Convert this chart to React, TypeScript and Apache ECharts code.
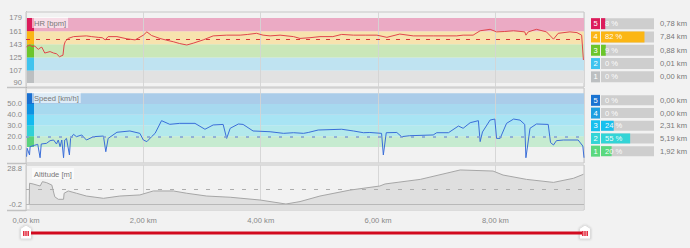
import React, { useEffect, useRef } from "react";
import * as echarts from "echarts";

// ---------- data ----------
const DIST_MAX = 9.51; // km
const X_TICK_STEP = 2;

// [km, bpm]
const hrSeries: [number, number][] = [
  [0.01, 139], [0.03, 141], [0.07, 142], [0.1, 140], [0.15, 140.5], [0.21, 136], [0.24, 138], [0.27, 139],
  [0.32, 131], [0.41, 133], [0.47, 131], [0.52, 130], [0.57, 126], [0.63, 128], [0.65, 142], [0.67, 147],
  [0.72, 151], [0.81, 153.5], [0.92, 154], [1.03, 154.5], [1.12, 153.5], [1.23, 152.5], [1.3, 152], [1.35, 149],
  [1.4, 153.5], [1.55, 153.5], [1.72, 150.5], [1.86, 149], [2.0, 155.5], [2.06, 160], [2.14, 155], [2.28, 151],
  [2.4, 148.5], [2.51, 146.5], [2.62, 144], [2.74, 142], [2.85, 144.5], [3.02, 149], [3.19, 154.5], [3.42, 155.5],
  [3.65, 155.5], [3.78, 156.5], [3.93, 158], [4.04, 155.5], [4.16, 154.5], [4.33, 155.5], [4.56, 153.5], [4.67, 151],
  [4.84, 152], [5.01, 153.5], [5.23, 153.5], [5.38, 156.5], [5.58, 155.5], [5.78, 155.5], [5.98, 155.5], [6.15, 152.5],
  [6.37, 157], [6.6, 154.5], [6.94, 154.5], [7.34, 154.5], [7.45, 155.5], [7.62, 155.5], [7.74, 161.5], [7.91, 163.5],
  [8.02, 160], [8.16, 160.5], [8.31, 161.5], [8.5, 160], [8.52, 155.5], [8.56, 160], [8.7, 163.5], [8.87, 160],
  [8.99, 150], [9.07, 158], [9.27, 160], [9.39, 159], [9.47, 155.5], [9.5, 121.5],
];

// [km, km/h]
const speedSeries: [number, number][] = [
  [0.01, 1], [0.02, 8.8], [0.06, 2.6], [0.07, 10.3], [0.14, 11.5], [0.2, 12.5], [0.24, 0], [0.26, 12.8],
  [0.35, 13.4], [0.41, 15.9], [0.47, 16.5], [0.52, 12.8], [0.55, 16.5], [0.58, 10.3], [0.61, 16.5], [0.64, 0],
  [0.66, 16.5], [0.69, 18], [0.74, 2.6], [0.76, 18], [0.81, 21.8], [0.86, 19.6], [0.95, 21.2], [1.03, 16.5],
  [1.15, 19.6], [1.32, 20.2], [1.36, 5.6], [1.4, 18], [1.55, 23.7], [1.77, 24.9], [1.94, 22.7], [2.0, 16.5],
  [2.06, 15], [2.14, 19.6], [2.2, 22.7], [2.31, 34.5], [2.45, 31.1], [2.62, 32], [2.88, 32], [3.05, 26.5],
  [3.19, 30.5], [3.36, 31], [3.42, 18], [3.48, 27.4], [3.62, 31.4], [3.7, 31], [3.87, 24.9], [4.16, 24.2],
  [4.39, 22.7], [4.56, 23.3], [4.73, 22.7], [4.81, 23.5], [4.98, 25.8], [5.38, 26.5], [5.58, 24.9], [5.75, 23.3],
  [5.86, 23.5], [6.06, 22.7], [6.09, 2.6], [6.14, 23.3], [6.32, 23.5], [6.4, 19.6], [6.54, 20.5], [6.94, 21.2],
  [7.0, 23.3], [7.2, 23.3], [7.37, 29.5], [7.45, 27.4], [7.57, 32.6], [7.71, 34.5], [7.74, 15], [7.78, 24],
  [7.91, 35.1], [7.99, 36], [8.02, 18], [8.08, 18], [8.19, 32], [8.31, 36], [8.42, 35], [8.5, 31],
  [8.52, 0], [8.59, 27.4], [8.7, 31.4], [8.9, 31], [8.94, 14.1], [8.99, 11.9], [9.04, 15.9], [9.16, 16.5],
  [9.41, 16.5], [9.49, 10.9], [9.51, 0],
];

// [km, m]
const altitudeSeries: [number, number][] = [
  [0.055, -0.2], [0.06, 17], [0.12, 16.4], [0.24, 14.7], [0.28, 18.3], [0.35, 17.5], [0.44, 15.5], [0.49, 5.8],
  [0.55, 3.7], [0.64, 3.7], [0.65, 8.7], [0.72, 10.6], [0.86, 8.7], [1.03, 6.4], [1.32, 4.5], [1.6, 6.4],
  [1.94, 7.3], [2.17, 10.6], [2.51, 10.6], [2.74, 8.7], [3.08, 6.4], [3.48, 5.4], [3.99, 3.1], [4.43, -0.2],
  [4.67, 1.8], [5.01, 6.4], [5.52, 11.3], [6.03, 14.7], [6.12, 16.4], [6.72, 20.2], [7.4, 28], [7.96, 27.1],
  [8.13, 23.8], [8.53, 20.2], [8.99, 17.7], [9.33, 21.1], [9.5, 24.4],
];

const hrZoneBounds = [90, 107, 125, 143, 161, 179];
const hrZonePct = [0, 0, 9, 82, 8]; // zones 1..5
const hrZoneKm = [0.0, 0.01, 0.88, 7.84, 0.78];
const hrAverage = 149.5;

const speedZoneBounds = [10, 20, 30, 40, 50, 60];
const speedZonePct = [20, 55, 24, 0, 0];
const speedZoneKm = [1.92, 5.19, 2.31, 0.0, 0.0];
const speedAverage = 19.5;
const speedLabels = [10, 20, 30, 40, 50];

const altitudeMin = -0.2;
const altitudeMax = 28.8;
const altitudeAverage = 12;

const zoneNames = ["1", "2", "3", "4", "5"];

// ---------- styles ----------
const FONT = '"Liberation Sans", Arial, Helvetica, sans-serif';
const FS = 7.6;
const W = 690;
const GRID_L = 26;
const GRID_R = 106;
const PLOT_W = W - GRID_L - GRID_R;
const STRIP_KM = (DIST_MAX * 8) / PLOT_W;

const hrStripColors = ["#bcbfc1", "#40c3ee", "#6cc52b", "#fbb615", "#dc1c5b"];
const hrBandColors = ["#e2e2e2", "#bfe3f1", "#cae7b8", "#f7e3ae", "#ebaac4"];
const speedStripColors = ["#5bd27c", "#30d0d8", "#12baf0", "#0d92e2", "#1a70d0"];
const speedBandColors = ["#c6ebd0", "#b3e9ec", "#a8e4f4", "#a7d9ef", "#aacce9"];
const speedBarColors = ["#5bd87f", "#33d4d6", "#17c0ee", "#1e9ee0", "#1a73d1"];

function bandAreas(bounds: number[], bands: string[], strips: string[]) {
  const out: any[] = [];
  for (let i = 0; i < 5; i++) {
    out.push([{ yAxis: bounds[i], itemStyle: { color: bands[i] } }, { yAxis: bounds[i + 1] }]);
  }
  for (let i = 0; i < 5; i++) {
    out.push([
      { xAxis: 0, yAxis: bounds[i], itemStyle: { color: strips[i] } },
      { xAxis: STRIP_KM, yAxis: bounds[i + 1] },
    ]);
  }
  return out;
}

const kmFmt = (v: number) => v.toFixed(2).replace(".", ",") + " km";

function xAxis(gridIndex: number, labels: boolean) {
  return {
    type: "value",
    gridIndex,
    min: 0,
    max: DIST_MAX,
    interval: X_TICK_STEP,
    z: 3,
    axisLine: { show: false },
    axisTick: { show: false },
    splitLine: { show: true, lineStyle: { color: "rgba(212,212,212,0.9)", width: 1 } },
    axisLabel: {
      show: labels,
      formatter: (v: number) => kmFmt(v),
      color: "#888",
      fontSize: FS,
      fontFamily: FONT,
      margin: 6,
      showMaxLabel: false,
    },
  };
}

function yAxis(gridIndex: number, min: number, max: number, labels: number[], digits: number) {
  return {
    type: "value",
    gridIndex,
    min,
    max,
    axisLine: { show: true, lineStyle: { color: "#a8a8a8", width: 1 } },
    axisTick: { show: false },
    splitLine: { show: false },
    axisLabel: {
      customValues: labels,
      formatter: (v: number) => v.toFixed(digits),
      color: "#888",
      fontSize: FS,
      fontFamily: FONT,
      margin: 4,
    },
  };
}

function zoneRich(colors: string[]) {
  const rich: any = {};
  colors.forEach((c, i) => {
    rich["z" + (i + 1)] = {
      backgroundColor: c,
      color: "#fff",
      width: 9,
      height: 11,
      lineHeight: 11,
      align: "center",
      fontSize: FS,
      fontFamily: FONT,
    };
  });
  return rich;
}

function zoneAxes(gridIndex: number, colors: string[], km: number[]) {
  return [
    {
      type: "category",
      gridIndex,
      data: zoneNames,
      axisLine: { show: false },
      axisTick: { show: false },
      axisLabel: {
        interval: 0,
        hideOverlap: false,
        margin: 1,
        formatter: (v: string) => `{z${v}|${v}}`,
        rich: zoneRich(colors),
      },
    },
    {
      type: "category",
      gridIndex,
      position: "right",
      data: zoneNames,
      axisLine: { show: false },
      axisTick: { show: false },
      axisLabel: {
        interval: 0,
        hideOverlap: false,
        margin: 33,
        align: "right",
        color: "#777",
        fontSize: FS,
        fontFamily: FONT,
        formatter: (v: string) => kmFmt(km[Number(v) - 1]),
      },
    },
  ];
}

function zoneBar(xi: number, yi: number, pct: number[], colors: string[], bw: number) {
  return {
    type: "bar",
    xAxisIndex: xi,
    yAxisIndex: yi,
    barWidth: bw,
    silent: true,
    data: pct.map((v, i) => ({ value: v, itemStyle: { color: colors[i] } })),
    showBackground: true,
    backgroundStyle: { color: "#cecece" },
    label: {
      show: true,
      position: [4, "50%"],
      verticalAlign: "middle",
      align: "left",
      formatter: "{c} %",
      color: "rgba(255,255,255,0.95)",
      fontSize: FS,
      fontFamily: FONT,
    },
  };
}

function panelLabel(text: string, x: number, y: number) {
  return {
    type: "text",
    z: 20,
    x,
    y,
    silent: true,
    style: {
      text,
      fill: "#777",
      fontSize: FS,
      fontFamily: FONT,
      backgroundColor: "rgba(255,255,255,0.6)",
      padding: [2, 2, 1, 2],
      verticalAlign: "top",
    },
  };
}

function handle(cx: number) {
  return {
    type: "group",
    z: 20,
    children: [
      {
        type: "polygon",
        shape: {
          points: [
            [cx - 5.5, 228.5],
            [cx, 225],
            [cx + 5.5, 228.5],
            [cx + 5.5, 239],
            [cx - 5.5, 239],
          ],
        },
        style: { fill: "#fff", stroke: "#dcdcdc", lineWidth: 1, shadowBlur: 2, shadowColor: "rgba(0,0,0,0.2)" },
      },
      ...[-2.2, 0, 2.2].map((d) => ({
        type: "rect",
        shape: { x: cx + d - 0.7, y: 231, width: 1.4, height: 5 },
        style: { fill: "#e01a2e" },
      })),
    ],
  };
}

function sepLine(y: number) {
  return {
    type: "line",
    z: 5,
    shape: { x1: 7, y1: y, x2: GRID_L, y2: y },
    style: { stroke: "#c2c2c2", lineWidth: 1.5 },
  };
}

function buildOption() {
  const gridBorder = { show: true, borderColor: "#c6c6c6", borderWidth: 1, backgroundColor: "transparent" };
  return {
    animation: false,
    backgroundColor: "#f2f2f2",
    grid: [
      { left: GRID_L, right: GRID_R, top: 12, height: 75, ...gridBorder },
      { left: GRID_L, right: GRID_R, top: 88, height: 75, ...gridBorder },
      { left: GRID_L, right: GRID_R, top: 165, height: 45, ...gridBorder },
      { left: 601, right: 36, top: 17, height: 66.5, show: false },
      { left: 601, right: 36, top: 94, height: 63.5, show: false },
    ],
    xAxis: [
      xAxis(0, false),
      xAxis(1, false),
      xAxis(2, true),
      { type: "value", gridIndex: 3, min: 0, max: 100, show: false },
      { type: "value", gridIndex: 4, min: 0, max: 100, show: false },
    ],
    yAxis: [
      yAxis(0, 84.5, 187.2, hrZoneBounds, 0),
      yAxis(1, -4.88, 64.88, speedLabels, 1),
      yAxis(2, -5.17, 32.11, [altitudeMin, altitudeMax], 1),
      ...zoneAxes(3, hrStripColors, hrZoneKm),
      ...zoneAxes(4, speedBarColors, speedZoneKm),
    ],
    series: [
      {
        type: "line",
        xAxisIndex: 0,
        yAxisIndex: 0,
        data: hrSeries,
        showSymbol: false,
        symbol: "none",
        silent: true,
        lineStyle: { color: "#e0454b", width: 1 },
        markArea: { silent: true, label: { show: false }, data: bandAreas(hrZoneBounds, hrBandColors, hrStripColors) },
        markLine: {
          silent: true,
          symbol: ["none", "none"],
          label: { show: false },
          lineStyle: { color: "#d9343a", type: [4, 6], width: 1 },
          data: [{ yAxis: hrAverage }],
        },
      },
      {
        type: "line",
        xAxisIndex: 1,
        yAxisIndex: 1,
        data: speedSeries,
        showSymbol: false,
        symbol: "none",
        silent: true,
        lineStyle: { color: "#3a6ed8", width: 1 },
        markArea: {
          silent: true,
          label: { show: false },
          data: bandAreas(speedZoneBounds, speedBandColors, speedStripColors),
        },
        markLine: {
          silent: true,
          symbol: ["none", "none"],
          label: { show: false },
          lineStyle: { color: "#7f9dd6", type: [3, 8], width: 1.5 },
          data: [{ yAxis: speedAverage }],
        },
      },
      {
        type: "line",
        xAxisIndex: 2,
        yAxisIndex: 2,
        data: altitudeSeries,
        showSymbol: false,
        symbol: "none",
        silent: true,
        lineStyle: { color: "#a6a6a6", width: 1 },
        areaStyle: { color: "#dfdfdf", opacity: 1, origin: "start" },
        markLine: {
          silent: true,
          symbol: ["none", "none"],
          label: { show: false },
          data: [
            { yAxis: altitudeAverage, lineStyle: { color: "#adadad", type: [4, 8], width: 1 } },
            { yAxis: altitudeMin, lineStyle: { color: "#b8b8b8", type: "solid", width: 1 } },
          ],
        },
      },
      zoneBar(3, 3, hrZonePct, hrStripColors, 11),
      zoneBar(4, 5, speedZonePct, speedBarColors, 10),
    ],
    graphic: [
      panelLabel("HR [bpm]", 32, 17),
      panelLabel("Speed [km/h]", 32, 92),
      panelLabel("Altitude [m]", 32, 168),
      sepLine(87.5),
      sepLine(163.5),
      sepLine(210.5),
      {
        type: "rect",
        z: 15,
        shape: { x: 31, y: 231.5, width: 551, height: 3 },
        style: { fill: "#d20a1f" },
      },
      handle(26),
      handle(585),
    ],
  };
}

export default function App() {
  const ref = useRef<HTMLDivElement>(null);
  useEffect(() => {
    if (!ref.current) return;
    const chart = echarts.init(ref.current, undefined, { renderer: "svg" });
    chart.setOption(buildOption() as any);
    return () => chart.dispose();
  }, []);
  return (
    <div
      ref={ref}
      style={{ position: "fixed", left: 0, top: 0, width: 690, height: 248, background: "#f2f2f2" }}
    />
  );
}
